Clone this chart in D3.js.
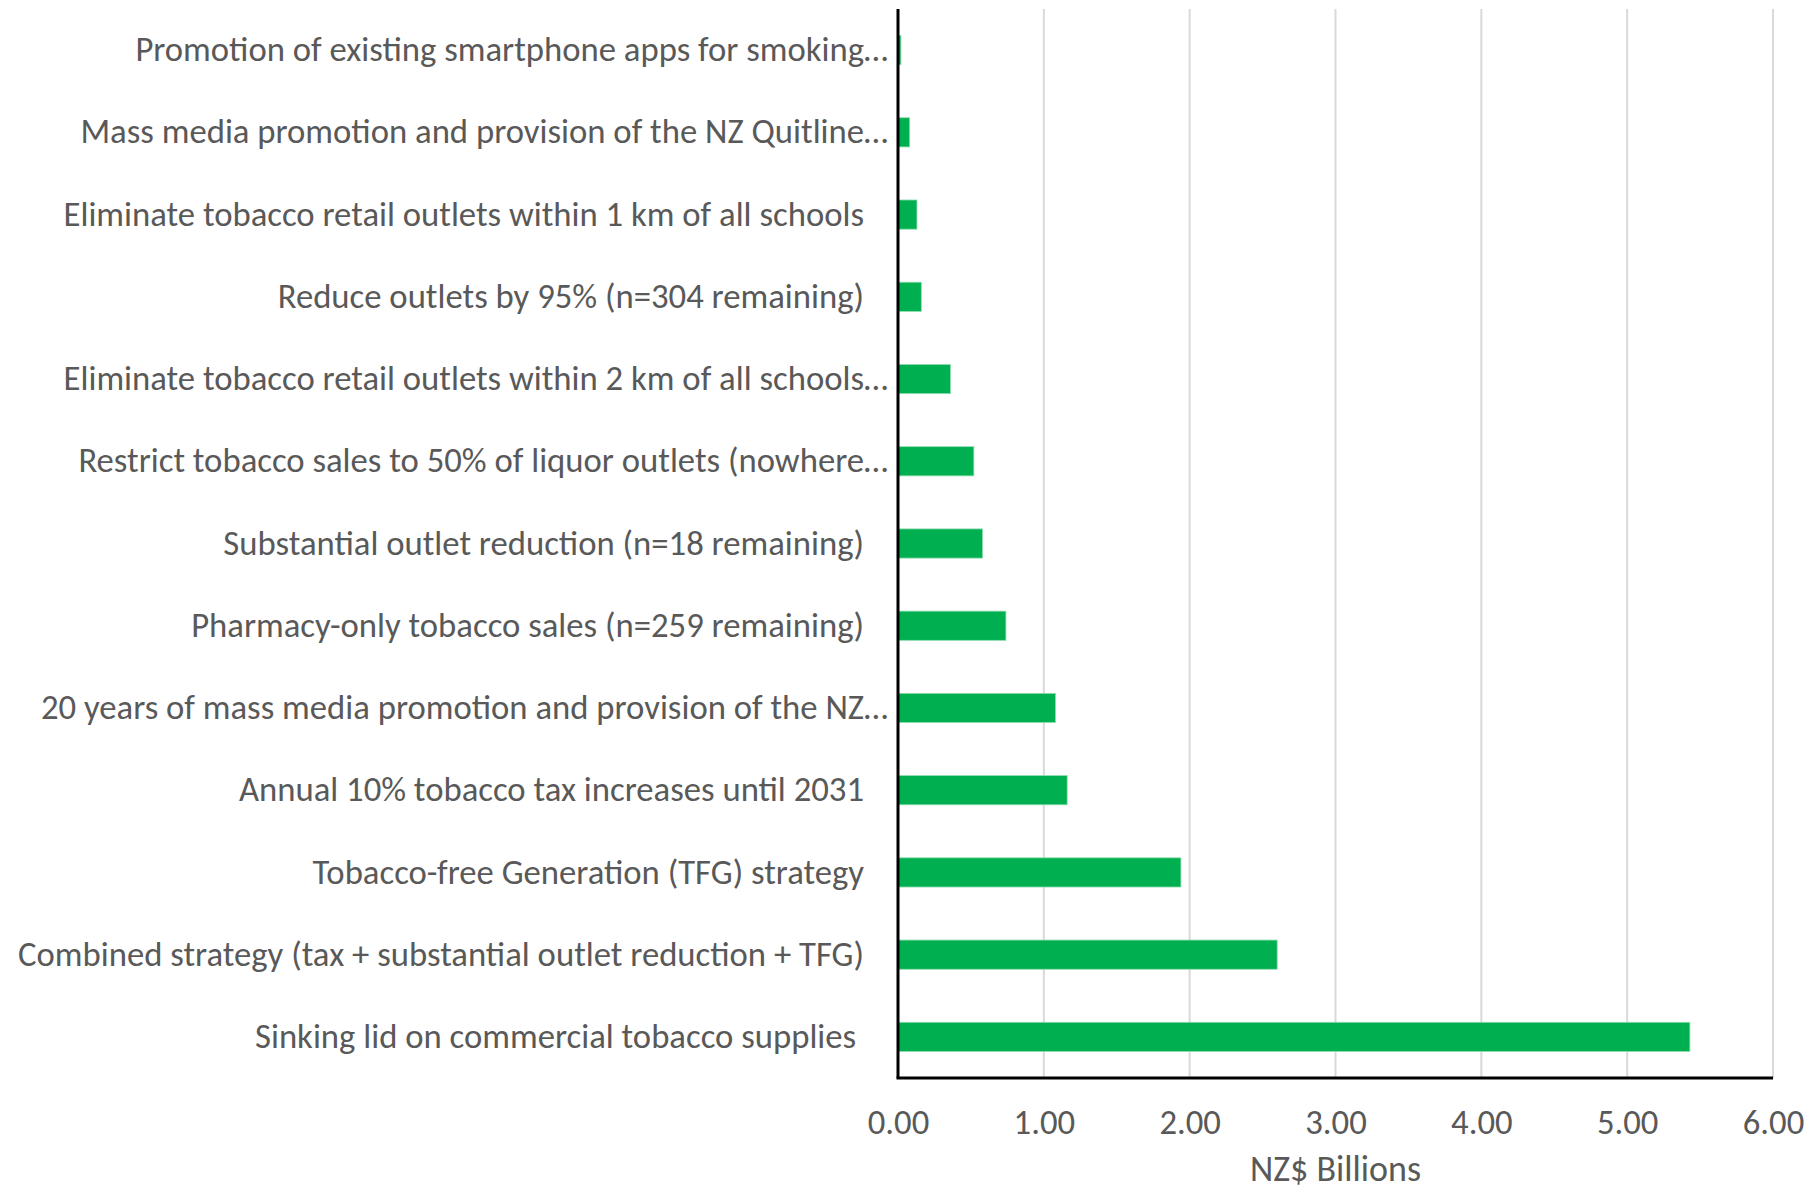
<!DOCTYPE html>
<html>
<head>
<meta charset="utf-8">
<script src="https://cdn.jsdelivr.net/npm/d3@7"></script>
<style>
  html, body { margin: 0; padding: 0; background: #ffffff; }
  svg { display: block; }
  text { font-family: Carlito, Calibri, Lato, "Open Sans", sans-serif; fill: #595959; }
</style>
</head>
<body>
<svg id="chart" width="1814" height="1192"></svg>
<script>
const categories = [
  "Promotion of existing smartphone apps for smoking…",
  "Mass media promotion and provision of the NZ Quitline…",
  "Eliminate tobacco retail outlets within 1 km of all schools",
  "Reduce outlets by 95% (n=304 remaining)",
  "Eliminate tobacco retail outlets within 2 km of all schools…",
  "Restrict tobacco sales to 50% of liquor outlets (nowhere…",
  "Substantial outlet reduction (n=18 remaining)",
  "Pharmacy-only tobacco sales (n=259 remaining)",
  "20 years of mass media promotion and provision of the NZ…",
  "Annual 10% tobacco tax increases until 2031",
  "Tobacco-free Generation (TFG) strategy",
  "Combined strategy (tax + substantial outlet reduction + TFG)",
  "Sinking lid on commercial tobacco supplies "
];
const values = [0.02, 0.08, 0.13, 0.16, 0.36, 0.52, 0.58, 0.74, 1.08, 1.16, 1.94, 2.60, 5.43];
const tickValues = [0, 1, 2, 3, 4, 5, 6];
const xTitle = "NZ$ Billions";

const svg = d3.select("#chart");
const margin = { left: 898, right: 1814 - 1773, top: 9, bottom: 1192 - 1078 };
const W = 1814, H = 1192;
const plotW = W - margin.left - margin.right;
const plotH = H - margin.top - margin.bottom;
const FONT = "Carlito, Calibri, Lato, 'Open Sans', sans-serif";
const LABEL_SIZE = 34.7;

const x = d3.scaleLinear().domain([0, 6]).range([0, plotW]);
const y = d3.scaleBand().domain(categories).range([0, plotH]).paddingInner(0.645).paddingOuter(0.3225);

const g = svg.append("g").attr("transform", `translate(${margin.left},${margin.top})`);

// gridlines
g.append("g")
  .selectAll("line")
  .data(tickValues.filter(d => d > 0))
  .join("line")
  .attr("x1", d => x(d)).attr("x2", d => x(d))
  .attr("y1", 0).attr("y2", plotH)
  .attr("stroke", "#d9d9d9").attr("stroke-width", 2);

// bars
g.append("g")
  .selectAll("rect")
  .data(values)
  .join("rect")
  .attr("x", 0)
  .attr("y", (d, i) => y(categories[i]))
  .attr("width", d => x(d))
  .attr("height", y.bandwidth())
  .attr("fill", "#00af50")
  .attr("stroke", "#8fdcb0")
  .attr("stroke-width", 0.8);

// x axis (tick labels)
const xAxis = d3.axisBottom(x).tickValues(tickValues).tickFormat(d3.format(".2f")).tickSize(0).tickPadding(31);
const xa = g.append("g").attr("transform", `translate(0,${plotH})`).call(xAxis);
xa.select(".domain").remove();
xa.selectAll("text").attr("font-size", LABEL_SIZE).attr("fill", "#595959")
  .style("font-family", FONT);

// y axis labels
const yAxis = d3.axisLeft(y).tickSize(0).tickPadding(0);
const ya = g.append("g").call(yAxis);
ya.select(".domain").remove();
ya.selectAll("text")
  .attr("font-size", LABEL_SIZE)
  .attr("fill", "#595959")
  .style("font-family", FONT)
  .style("white-space", "pre")
  .attr("x", d => d.endsWith("…") ? -10 : -34);

// axis lines
g.append("line").attr("x1", 0).attr("x2", 0).attr("y1", 0).attr("y2", plotH)
  .attr("stroke", "#000").attr("stroke-width", 3);
g.append("line").attr("x1", -1.5).attr("x2", plotW).attr("y1", plotH).attr("y2", plotH)
  .attr("stroke", "#000").attr("stroke-width", 3);

// x title
svg.append("text")
  .attr("x", margin.left + plotW / 2)
  .attr("y", 1181)
  .attr("text-anchor", "middle")
  .attr("font-size", 36)
  .style("font-family", FONT)
  .text(xTitle);
</script>
</body>
</html>
